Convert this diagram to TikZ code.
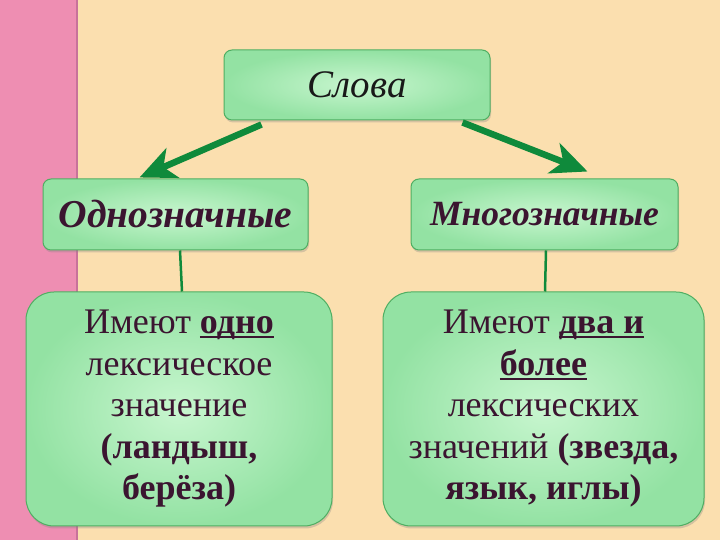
\documentclass[tikz,border=0pt]{standalone}
\usepackage{fontspec}
\setmainfont{Liberation Serif}
\usetikzlibrary{arrows.meta,shadows,calc}
\newcommand\thickul[1]{\setbox0\hbox{#1}\leavevmode\rlap{\rule[-4.5pt]{\wd0}{2pt}}\box0}
\definecolor{peach}{HTML}{FBDFAF}
\definecolor{pinkstrip}{HTML}{EE8EB2}
\definecolor{pinkedge}{HTML}{C8729A}
\definecolor{boxin}{HTML}{C8F6CF}
\definecolor{boxout}{HTML}{93E2A3}
\definecolor{boxborder}{HTML}{4FAE62}
\definecolor{arrowgreen}{HTML}{0F8A3B}
\definecolor{txt}{HTML}{3B1530}
\tikzset{
  box/.style={draw=boxborder, line width=1pt, rounded corners=8pt,
    inner color=boxin, outer color=boxout,
    drop shadow={shadow xshift=1pt, shadow yshift=-2.5pt, opacity=0.3},
    minimum width=266pt, minimum height=70pt, inner sep=0pt},
  bigbox/.style={box, rounded corners=28pt, align=center, text=txt,
    font=\fontsize{36}{41.5}\selectfont},
  bigarrow/.style={draw=arrowgreen, line width=6.5pt,
    -{Stealth[length=36pt,width=32pt,inset=10pt]}},
  thinline/.style={draw=arrowgreen, line width=2.5pt}
}
\begin{document}
\begin{tikzpicture}[x=1pt,y=1pt]
\useasboundingbox (0,0) rectangle (720,540);
\fill[peach] (0,0) rectangle (720,540);
\fill[pinkstrip] (0,0) rectangle (77,540);
\draw[pinkedge, line width=2pt] (77,0) -- (77,540);

\node[box, minimum width=266pt, minimum height=70pt] (top) at (357,455)
  {\fontsize{39}{39}\selectfont\itshape\color{black!90}Слова};
\node[box, minimum width=265pt, minimum height=71pt] (left) at (175.5,325.5)
  {\fontsize{39.5}{39.5}\selectfont\bfseries\itshape\color{txt}Однозначные};
\node[box, minimum width=267pt, minimum height=71pt] (right) at (544.5,325.5)
  {\fontsize{35.5}{35.5}\selectfont\bfseries\itshape\color{txt}Многозначные};

\node[bigbox, minimum width=306pt, minimum height=234pt] (bl) at (179,131)
  {Имеют \textbf{\thickul{одно}}\\лексическое\\значение\\\textbf{(ландыш,}\\\textbf{берёза)}};
\node[bigbox, minimum width=321pt, minimum height=234pt] (br) at (543.5,131)
  {Имеют \textbf{\thickul{два и}}\\\textbf{\thickul{более}}\\лексических\\значений \textbf{(звезда,}\\\textbf{язык, иглы)}};

\draw[bigarrow] ([xshift=38pt,yshift=-4pt]top.south west) -- ([xshift=97pt,yshift=1pt]left.north west);
\draw[bigarrow] ([xshift=-28pt,yshift=-2pt]top.south east) -- ([xshift=-91pt,yshift=7pt]right.north east);
\draw[thinline] ([xshift=4.5pt]left.south) -- ([xshift=3pt]bl.north);
\draw[thinline] ([xshift=1.5pt]right.south) -- ([xshift=1.5pt]br.north);
\end{tikzpicture}
\end{document}
